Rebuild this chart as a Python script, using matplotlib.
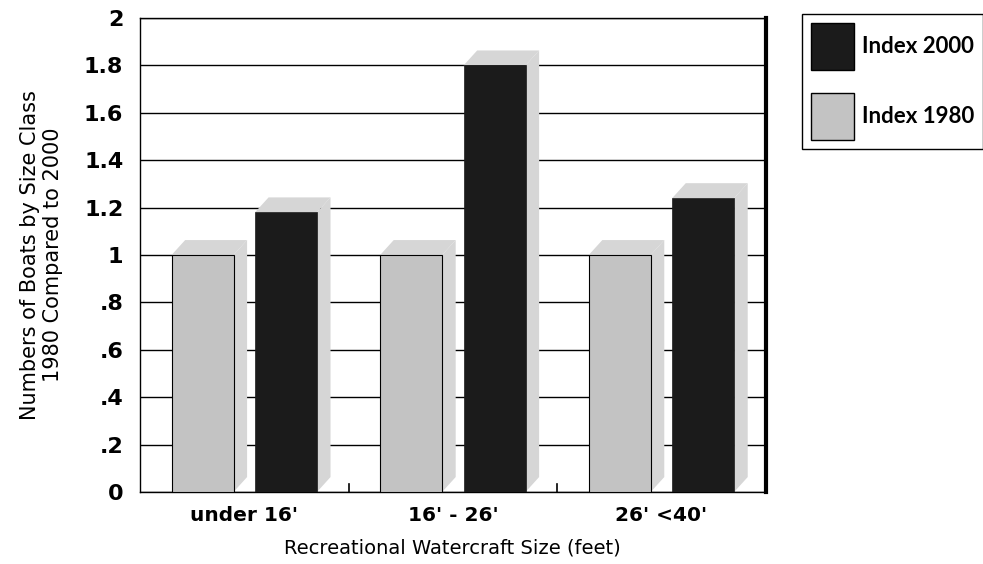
import numpy as np
import matplotlib.pyplot as plt
from matplotlib.patches import Polygon, Patch

plt.rcParams['font.family'] = ['DejaVu Sans']

# Datos
categorias = ["under 16'", "16' - 26'", "26' <40'"]
index_1980 = [1.0, 1.0, 1.0]
index_2000 = [1.18, 1.80, 1.24]
yticks = [0, 0.2, 0.4, 0.6, 0.8, 1, 1.2, 1.4, 1.6, 1.8, 2]
yticklabels = ['0', '.2', '.4', '.6', '.8', '1', '1.2', '1.4', '1.6', '1.8', '2']

claro = '#c3c3c3'
lado = '#d6d6d6'
oscuro = '#1b1b1b'

fig = plt.figure(figsize=(9.83, 5.64), dpi=100)
ax = fig.add_axes([0.1424, 0.1277, 0.6366, 0.8404])

x = np.arange(len(categorias))
w = 0.297
off = 0.2
dx, dy = 0.065, 0.063

def barra3d(xc, h):
    x0, x1 = xc - w / 2, xc + w / 2
    # lado derecho
    ax.add_patch(Polygon([(x1, 0), (x1, h), (x1 + dx, h + dy), (x1 + dx, dy)],
                         closed=True, facecolor=lado, edgecolor='none', zorder=2))
    # parte de arriba
    ax.add_patch(Polygon([(x0, h), (x0 + dx, h + dy), (x1 + dx, h + dy), (x1, h)],
                         closed=True, facecolor=lado, edgecolor='none', zorder=2))

for xi, h in zip(x - off, index_1980):
    barra3d(xi, h)
for xi, h in zip(x + off, index_2000):
    barra3d(xi, h)

ax.bar(x - off, index_1980, width=w, color=claro, edgecolor='black', linewidth=0.8, zorder=3)
ax.bar(x + off, index_2000, width=w, color=oscuro, edgecolor=oscuro, linewidth=0.5, zorder=3)

ax.set_xlim(-0.5, 2.5)
ax.set_ylim(0, 2)
ax.set_yticks(yticks)
ax.set_yticklabels(yticklabels, fontsize=16, fontweight='bold')
ax.tick_params(axis='y', length=0, pad=12)
ax.set_xticks(x)
ax.set_xticklabels(categorias, fontsize=14.5, fontweight='bold')
ax.tick_params(axis='x', length=0, pad=10)
# marcas entre grupos
for xb in [0.5, 1.5]:
    ax.plot([xb, xb], [0, 0.035], color='black', lw=1.2, zorder=4)

ax.yaxis.grid(True, color='black', linewidth=1)
ax.set_axisbelow(True)
for s in ['left', 'bottom', 'top']:
    ax.spines[s].set_linewidth(1)
ax.spines['right'].set_linewidth(3)

ax.set_xlabel('Recreational Watercraft Size (feet)', fontsize=14, labelpad=10)
ax.set_ylabel('Numbers of Boats by Size Class\n1980 Compared to 2000', fontsize=15,
              linespacing=1.2)
ax.yaxis.set_label_coords(-0.123, 0.5)

handles = [Patch(facecolor=oscuro, edgecolor='black'),
           Patch(facecolor=claro, edgecolor='black')]
leg = fig.legend(handles, ['Index 2000', 'Index 1980'], loc='upper left',
                 bbox_to_anchor=(0.816, 0.975), borderaxespad=0,
                 prop={'family': 'Lato', 'size': 16, 'weight': 'bold'},
                 handlelength=1.94, handleheight=2.88, labelspacing=1.04,
                 handletextpad=0.36, borderpad=0.4, fancybox=False, edgecolor='black',
                 framealpha=1)
leg.get_frame().set_linewidth(1)

fig.savefig('out.png', dpi=100)
